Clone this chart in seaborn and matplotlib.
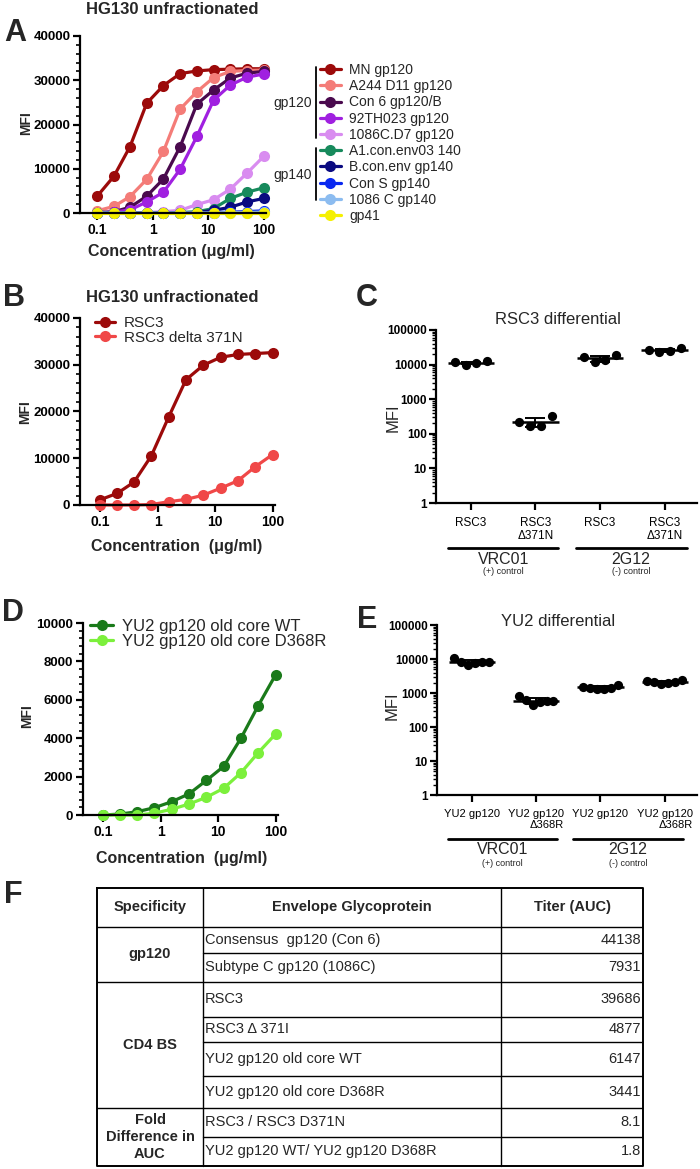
import numpy as np
import pandas as pd
import matplotlib
matplotlib.use('Agg')
import matplotlib.pyplot as plt
import seaborn as sns
from matplotlib.lines import Line2D
from matplotlib import transforms
from matplotlib.ticker import MultipleLocator, NullLocator, LogLocator, NullFormatter

# ---------------- data ----------------
conc = [0.1, 0.2, 0.39, 0.78, 1.56, 3.125, 6.25, 12.5, 25, 50, 100]

a_names = ['MN gp120', 'A244 D11 gp120', 'Con 6 gp120/B', '92TH023 gp120', '1086C.D7 gp120',
           'A1.con.env03 140', 'B.con.env gp140', 'Con S gp140', '1086 C gp140', 'gp41']
a_colors = ['#9c0a0a', '#f47c78', '#4a0a4e', '#a020e0', '#d98cf0',
            '#178a5c', '#0a0a80', '#0a28f0', '#8cbcf0', '#f5f000']
a_mn = [3800, 8300, 15000, 24800, 28800, 31500, 32100, 32400, 32500, 32600, 32600]
a_a244 = [500, 1500, 3700, 7600, 13900, 23500, 27400, 30600, 32000, 32200, 32300]
a_con6 = [100, 300, 1300, 3800, 7700, 15000, 24600, 27800, 30500, 31600, 32000]
a_92th = [0, 200, 700, 2500, 4700, 9900, 17300, 25500, 28900, 30700, 31400]
a_1086d7 = [0, 0, 0, 100, 300, 600, 1900, 3000, 5400, 9000, 12800]
a_a1con = [0, 0, 0, 0, 0, 100, 300, 1000, 3300, 4700, 5700]
a_bcon = [0, 0, 0, 0, 0, 0, 100, 600, 1300, 2500, 3300]
a_cons = [0, 0, 0, 0, 0, 0, 0, 100, 200, 300, 500]
a_1086c = [0, 0, 0, 0, 0, 0, 0, 0, 100, 100, 200]
a_gp41 = [0, 0, 0, 0, 0, 0, 0, 0, 0, 0, 0]
a_series = [a_mn, a_a244, a_con6, a_92th, a_1086d7, a_a1con, a_bcon, a_cons, a_1086c, a_gp41]

b_names = ['RSC3', 'RSC3 delta 371N']
b_colors = ['#9c0a0a', '#f04848']
b_rsc3 = [1100, 2500, 4900, 10500, 18800, 26800, 29900, 31600, 32200, 32400, 32600]
b_delta = [0, 0, 0, 100, 700, 1200, 2100, 3600, 5200, 8200, 10800]

d_names = ['YU2 gp120 old core WT', 'YU2 gp120 old core D368R']
d_colors = ['#1a7a1a', '#7cf03c']
d_wt = [0, 50, 170, 380, 690, 1100, 1800, 2530, 4000, 5700, 7300]
d_d368r = [0, 0, 0, 90, 300, 570, 920, 1390, 2200, 3250, 4220]

c_labels = ['RSC3', 'RSC3\nΔ371N', 'RSC3', 'RSC3\nΔ371N']
c_vrc_wt = [11600, 10000, 11100, 12300]
c_vrc_mut = [220, 173, 173, 320]
c_2g12_wt = [16200, 11900, 13900, 18400]
c_2g12_mut = [26800, 22500, 24000, 30000]

e_labels = ['YU2 gp120', 'YU2 gp120\nΔ368R', 'YU2 gp120', 'YU2 gp120\nΔ368R']
e_vrc_wt = [10500, 8200, 6600, 7400, 8100, 8000]
e_vrc_mut = [820, 620, 430, 560, 600, 580]
e_2g12_wt = [1550, 1400, 1280, 1350, 1450, 1700]
e_2g12_mut = [2200, 2050, 1800, 1950, 2100, 2400]

mab_names = ['VRC01', '2G12']
mab_roles = ['(+) control', '(-) control']

t_header = ['Specificity', 'Envelope Glycoprotein', 'Titer (AUC)']
t_spec = ['gp120', 'CD4 BS', 'Fold\nDifference in\nAUC']
t_spec_rows = [2, 4, 2]
t_glyco = ['Consensus  gp120 (Con 6)', 'Subtype C gp120 (1086C)', 'RSC3', 'RSC3 Δ 371I',
           'YU2 gp120 old core WT', 'YU2 gp120 old core D368R', 'RSC3 / RSC3 D371N',
           'YU2 gp120 WT/ YU2 gp120 D368R']
t_titer = ['44138', '7931', '39686', '4877', '6147', '3441', '8.1', '1.8']

# ---------------- setup ----------------
sns.set_style('ticks')
plt.rcParams['font.family'] = ['Liberation Sans', 'DejaVu Sans']
plt.rcParams['axes.edgecolor'] = 'black'
plt.rcParams['xtick.color'] = 'black'
plt.rcParams['ytick.color'] = 'black'

W, H = 700, 1169
fig = plt.figure(figsize=(7, 11.69), dpi=100)


def rect(l, t, r, b):
    return [l / W, 1 - b / H, (r - l) / W, (b - t) / H]


def fx(px):
    return px / W


def fy(py):
    return 1 - py / H


def curve_df(names, series):
    rows = []
    for n, s in zip(names, series):
        for c, v in zip(conc, s):
            rows.append({'conc': c, 'MFI': v, 'antigen': n})
    return pd.DataFrame(rows)


def style_curve(ax, xlim, ymax, major, minor):
    ax.set_xscale('log')
    ax.set_xlim(*xlim)
    ax.set_ylim(0, ymax)
    ax.set_xticks([0.1, 1, 10, 100], labels=['0.1', '1', '10', '100'],
                  fontweight='bold', fontsize=10)
    ax.xaxis.set_minor_locator(NullLocator())
    yt = list(np.arange(0, ymax + 1, major))
    ax.set_yticks(yt, labels=[str(int(v)) for v in yt], fontweight='bold', fontsize=9.5)
    ax.yaxis.set_minor_locator(MultipleLocator(minor))
    for s in ['top', 'right']:
        ax.spines[s].set_visible(False)
    for s in ['left', 'bottom']:
        ax.spines[s].set_linewidth(1.6)
    ax.tick_params(which='major', width=1.6, length=5, pad=2, direction='out')
    ax.tick_params(axis='y', which='minor', width=1.2, length=3, direction='out')
    ax.set_xlabel('')
    ax.set_ylabel('')


def draw_curves(ax, names, series, colors):
    df = curve_df(names, series)
    sns.lineplot(data=df, x='conc', y='MFI', hue='antigen', hue_order=names,
                 palette=colors, marker='o', markersize=8, markeredgewidth=0,
                 linewidth=2.3, errorbar=None, legend=False, ax=ax, clip_on=False)
    return ax.get_lines()


# ---------------- panel A ----------------
axA = fig.add_axes(rect(80, 36, 266, 213))
linesA = draw_curves(axA, a_names, a_series, a_colors)
style_curve(axA, (0.049, 110), 40000, 10000, 2000)
fig.text(fx(172), fy(9), 'HG130 unfractionated', ha='center', va='center',
         fontsize=12, fontweight='bold')
fig.text(fx(15), fy(33), 'A', ha='center', va='center', fontsize=22, fontweight='bold')
fig.text(fx(26), fy(123), 'MFI', rotation=90, ha='center', va='center',
         fontsize=10, fontweight='bold')
fig.text(fx(171), fy(251), 'Concentration (μg/ml)', ha='center', va='center',
         fontsize=11.5, fontweight='bold')
handles = [Line2D([0], [0], color=c, marker='o', markersize=8, lw=2.3, markeredgewidth=0)
           for c in a_colors]
fig.legend(handles, a_names, loc='upper left', bbox_to_anchor=(fx(320), fy(63)),
           frameon=False, fontsize=10, handlelength=1.5, handletextpad=0.6,
           labelspacing=0.16, borderpad=0, borderaxespad=0)
fig.add_artist(Line2D([fx(316), fx(316)], [fy(67), fy(138)], color='black', lw=1.3))
fig.add_artist(Line2D([fx(316), fx(316)], [fy(148), fy(200)], color='black', lw=1.3))
fig.text(fx(293), fy(103), 'gp120', ha='center', va='center', fontsize=10)
fig.text(fx(293), fy(175), 'gp140', ha='center', va='center', fontsize=10)

# ---------------- panel B ----------------
axB = fig.add_axes(rect(80, 318, 275, 505))
draw_curves(axB, b_names, [b_rsc3, b_delta], b_colors)
style_curve(axB, (0.045, 110), 40000, 10000, 2000)
fig.text(fx(172), fy(298), 'HG130 unfractionated', ha='center', va='center',
         fontsize=12, fontweight='bold')
fig.text(fx(14), fy(298), 'B', ha='center', va='center', fontsize=22, fontweight='bold')
fig.text(fx(25), fy(412), 'MFI', rotation=90, ha='center', va='center',
         fontsize=10, fontweight='bold')
fig.text(fx(177), fy(547), 'Concentration  (μg/ml)', ha='center', va='center',
         fontsize=11.5, fontweight='bold')
hB = [Line2D([0], [0], color=c, marker='o', markersize=8, lw=2.3, markeredgewidth=0)
      for c in b_colors]
axB.legend(hB, b_names, loc='upper left', bbox_to_anchor=(fx(95), fy(316)),
           bbox_transform=fig.transFigure, frameon=False, fontsize=11,
           handlelength=1.3, handletextpad=0.6, labelspacing=0.05,
           borderpad=0, borderaxespad=0)

# ---------------- panel D ----------------
axD = fig.add_axes(rect(83, 623, 278, 815))
draw_curves(axD, d_names, [d_wt, d_d368r], d_colors)
style_curve(axD, (0.045, 110), 10000, 2000, 400)
fig.text(fx(13), fy(613), 'D', ha='center', va='center', fontsize=22, fontweight='bold')
fig.text(fx(27), fy(716), 'MFI', rotation=90, ha='center', va='center',
         fontsize=10, fontweight='bold')
fig.text(fx(182), fy(858), 'Concentration  (μg/ml)', ha='center', va='center',
         fontsize=11.5, fontweight='bold')
hD = [Line2D([0], [0], color=c, marker='o', markersize=8, lw=2.3, markeredgewidth=0)
      for c in d_colors]
axD.legend(hD, d_names, loc='upper left', bbox_to_anchor=(fx(90), fy(619)),
           bbox_transform=fig.transFigure, frameon=False, fontsize=12,
           handlelength=1.4, handletextpad=0.5, labelspacing=0.0,
           borderpad=0, borderaxespad=0)


# ---------------- dot panels C & E ----------------
def dot_panel(ax, groups, labels, spread, label_size, linesp, ylines, line_spans):
    rows = []
    for gi, vals in enumerate(groups):
        offs = np.linspace(-spread, spread, len(vals))
        for o, v in zip(offs, vals):
            rows.append({'pos': gi + o, 'MFI': v})
    df = pd.DataFrame(rows)
    ax.set_yscale('log')
    sns.scatterplot(data=df, x='pos', y='MFI', color='black', s=44, edgecolor='black',
                    linewidth=0, ax=ax, zorder=3, clip_on=False)
    for gi, vals in enumerate(groups):
        m = np.mean(vals)
        sd = np.std(vals, ddof=1)
        ax.hlines(m, gi - 0.36, gi + 0.36, color='black', lw=1.8, zorder=4)
        ax.errorbar(gi, m, yerr=sd, color='black', lw=1.4, capsize=7, capthick=1.4,
                    zorder=4, fmt='none')
    ax.set_ylim(1, 100000)
    ax.set_xlim(-0.54, 3.5)
    yt = [1, 10, 100, 1000, 10000, 100000]
    ax.set_yticks(yt, labels=[str(v) for v in yt], fontweight='bold', fontsize=8.5)
    ax.yaxis.set_minor_locator(LogLocator(base=10, subs=np.arange(2, 10), numticks=20))
    ax.yaxis.set_minor_formatter(NullFormatter())
    ax.set_xticks(range(len(labels)), labels=labels, fontsize=label_size)
    for lab in ax.get_xticklabels():
        lab.set_linespacing(linesp)
        if '\n' in lab.get_text():
            lab.set_multialignment('right' if 'YU2' in lab.get_text() else 'center')
    for s in ['top', 'right']:
        ax.spines[s].set_visible(False)
    for s in ['left', 'bottom']:
        ax.spines[s].set_linewidth(1.6)
    ax.tick_params(which='major', width=1.6, length=5, pad=5, direction='out')
    ax.tick_params(axis='y', which='major', pad=1.5)
    ax.tick_params(axis='y', which='minor', width=1.0, length=3, direction='out')
    ax.set_xlabel('')
    ax.set_ylabel('')
    tr = transforms.blended_transform_factory(ax.transData, fig.transFigure)
    y_line, y_name, y_role = ylines
    for (x0, x1), name, role in zip(line_spans, mab_names, mab_roles):
        ax.add_artist(Line2D([x0, x1], [fy(y_line), fy(y_line)], color='black', lw=2.0,
                             transform=tr, clip_on=False))
        ax.text((x0 + x1) / 2, fy(y_name), name, transform=tr, ha='center', va='center',
                fontsize=11.5)
        ax.text((x0 + x1) / 2, fy(y_role), role, transform=tr, ha='center', va='center',
                fontsize=6.5)


axC = fig.add_axes(rect(436, 330, 697, 503))
dot_panel(axC, [c_vrc_wt, c_vrc_mut, c_2g12_wt, c_2g12_mut], c_labels, 0.25, 8.5, 1.1,
          (548, 559, 572), [(-0.35, 1.35), (1.62, 3.34)])
fig.text(fx(558), fy(319), 'RSC3 differential', ha='center', va='center', fontsize=12)
fig.text(fx(367), fy(298), 'C', ha='center', va='center', fontsize=22, fontweight='bold')
fig.text(fx(393), fy(418), 'MFI', rotation=90, ha='center', va='center', fontsize=12)

axE = fig.add_axes(rect(437, 625, 697, 795))
dot_panel(axE, [e_vrc_wt, e_vrc_mut, e_2g12_wt, e_2g12_mut], e_labels, 0.27, 8, 1.15,
          (839, 850, 864), [(-0.37, 1.33), (1.58, 3.28)])
fig.text(fx(558), fy(622), 'YU2 differential', ha='center', va='center', fontsize=12)
fig.text(fx(367), fy(620), 'E', ha='center', va='center', fontsize=22, fontweight='bold')
fig.text(fx(392), fy(706), 'MFI', rotation=90, ha='center', va='center', fontsize=12)

# ---------------- panel F: table ----------------
fig.text(fx(13), fy(895), 'F', ha='center', va='center', fontsize=22, fontweight='bold')
tl, tt, tr_, tb = 97, 888, 643, 1166
col_edges = [tl, 203, 501, tr_]
row_edges = [888, 927, 953, 982, 1017, 1042, 1076, 1108, 1137, 1166]
axF = fig.add_axes(rect(tl, tt, tr_, tb))
axF.set_xlim(tl, tr_)
axF.set_ylim(tb, tt)
axF.axis('off')
lw_t = 1.0
# outer border
axF.plot([tl, tr_, tr_, tl, tl], [tt, tt, tb, tb, tt], color='black', lw=1.4, clip_on=False)
for cx in col_edges[1:-1]:
    axF.plot([cx, cx], [tt, tb], color='black', lw=lw_t, clip_on=False)
# header line
axF.plot([tl, tr_], [row_edges[1], row_edges[1]], color='black', lw=lw_t)
# group and inner row lines
boundaries = np.cumsum([0] + t_spec_rows)
group_starts = set(boundaries[1:-1])
for ri in range(1, len(t_glyco)):
    y = row_edges[ri + 1]
    x0 = tl if ri in group_starts else col_edges[1]
    axF.plot([x0, tr_], [y, y], color='black', lw=lw_t)
# header text
for ci, h in enumerate(t_header):
    axF.text((col_edges[ci] + col_edges[ci + 1]) / 2, (row_edges[0] + row_edges[1]) / 2, h,
             ha='center', va='center', fontsize=10.5, fontweight='bold')
# specificity text
for gi, s in enumerate(t_spec):
    r0 = boundaries[gi] + 1
    r1 = boundaries[gi + 1] + 1
    axF.text((col_edges[0] + col_edges[1]) / 2, (row_edges[r0] + row_edges[r1]) / 2, s,
             ha='center', va='center', fontsize=10.5, fontweight='bold', linespacing=1.25)
# body
for ri, (g, t) in enumerate(zip(t_glyco, t_titer)):
    yc = (row_edges[ri + 1] + row_edges[ri + 2]) / 2
    axF.text(col_edges[1] + 2, yc, g, ha='left', va='center', fontsize=10.5)
    axF.text(col_edges[3] - 2, yc, t, ha='right', va='center', fontsize=10.5)

fig.savefig('out.png', dpi=100)
